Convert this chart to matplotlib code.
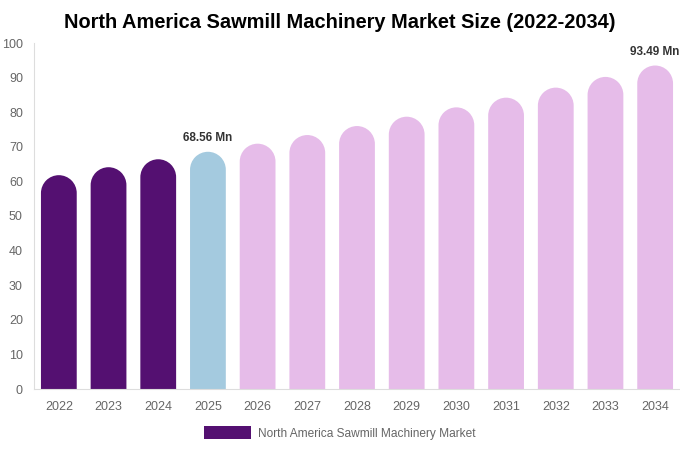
import numpy as np
import matplotlib.pyplot as plt
from matplotlib.patches import PathPatch, Patch
from matplotlib.path import Path

# Datos del gráfico
years = ['2022', '2023', '2024', '2025', '2026', '2027', '2028',
         '2029', '2030', '2031', '2032', '2033', '2034']
values = [61.8, 64.1, 66.4, 68.56, 70.9, 73.4, 76.0, 78.7, 81.4, 84.2, 87.1, 90.2, 93.49]
labeled = {'2025': '68.56 Mn', '2034': '93.49 Mn'}
y_ticks = [0, 10, 20, 30, 40, 50, 60, 70, 80, 90, 100]

dark = '#541071'
blue = '#a4cadf'
pink = '#e6bce9'
colors = [dark if int(y) < 2025 else (blue if y == '2025' else pink) for y in years]

plt.rcParams['font.family'] = ['Liberation Sans', 'DejaVu Sans']

fig = plt.figure(figsize=(6.8, 4.5), dpi=100)
ax = fig.add_axes([34 / 680, 61 / 450, 646 / 680, 346 / 450])
ax.set_xlim(-0.5, len(years) - 0.5)
ax.set_ylim(0, 100)

# Barras con la parte superior redondeada (una sola ruta por barra)
w = 0.72
px_x = 646 / len(years)
px_y = 346 / 100
ry = (w * px_x / 2) / px_y
arc = Path.arc(0, 180)
for i, (v, c) in enumerate(zip(values, colors)):
    top = arc.vertices * np.array([w / 2, ry]) + np.array([i, v - ry])
    verts = [(i + w / 2, 0)] + list(top) + [(i - w / 2, 0), (i + w / 2, 0)]
    codes = [Path.MOVETO, Path.LINETO] + list(arc.codes[1:]) + [Path.LINETO, Path.CLOSEPOLY]
    ax.add_patch(PathPatch(Path(verts, codes), facecolor=c, edgecolor='none'))
    if years[i] in labeled:
        ax.text(i, v + 2.3, labeled[years[i]], ha='center', va='bottom',
                fontsize=8.5, fontweight='bold', color='#333333')

ax.set_xticks(range(len(years)))
ax.set_xticklabels(years)
ax.set_yticks(y_ticks)
ax.tick_params(axis='both', length=0, labelsize=9, colors='#666666')
ax.tick_params(axis='x', pad=9)
ax.tick_params(axis='y', pad=8)
for s in ['top', 'right']:
    ax.spines[s].set_visible(False)
for s in ['left', 'bottom']:
    ax.spines[s].set_color('#dddddd')

fig.suptitle('North America Sawmill Machinery Market Size (2022-2034)',
             x=0.5, y=0.972, fontsize=14.4, fontweight='bold')

leg = fig.legend(handles=[Patch(facecolor=dark, label='North America Sawmill Machinery Market')],
                 loc='center', bbox_to_anchor=(0.5, 1 - 433 / 450), frameon=False,
                 fontsize=8.6, handlelength=3.9, handleheight=1.2, handletextpad=0.6)
for t in leg.get_texts():
    t.set_color('#666666')

fig.savefig('out.png', dpi=100)
